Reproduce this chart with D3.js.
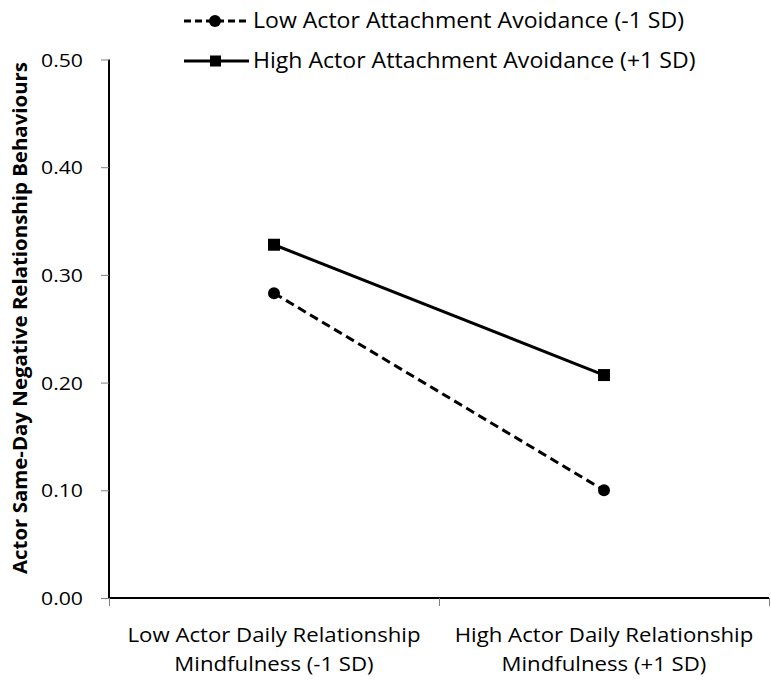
<!DOCTYPE html>
<html><head><meta charset="utf-8">
<script src="https://cdn.jsdelivr.net/npm/d3@7"></script>
<style>body{margin:0;background:#fff;} svg{display:block;} text{font-family:"Open Sans","Noto Sans",sans-serif;fill:#000;}</style>
</head><body>
<svg id="chart" width="771" height="682"></svg>
<script>
const categories = [["Low Actor Daily Relationship","Mindfulness (-1 SD)"],["High Actor Daily Relationship","Mindfulness (+1 SD)"]];
const seriesNames = ["Low Actor Attachment Avoidance (-1 SD)","High Actor Attachment Avoidance (+1 SD)"];
const lowAvoidance = [0.283, 0.100];
const highAvoidance = [0.328, 0.207];
const yTicks = [0, 0.1, 0.2, 0.3, 0.4, 0.5];
const yTitle = "Actor Same-Day Negative Relationship Behaviours";

const svg = d3.select("#chart");
const m = {l:109, r:769, t:59.5, b:598};
const x = d3.scaleLinear().domain([0,2]).range([m.l, m.r]);
const y = d3.scaleLinear().domain([0,0.5]).range([m.b, m.t]);

// squeeze text horizontally to mimic a narrower face
function squeeze(sel, ratio){
  sel.each(function(){
    const w = this.getComputedTextLength();
    d3.select(this).attr("textLength", w*ratio).attr("lengthAdjust","spacingAndGlyphs");
  });
}
function ratioFor(sel, target){ return target / sel.node().getComputedTextLength(); }

// Y axis
const ya = svg.append("g").attr("transform",`translate(${m.l},0)`)
  .call(d3.axisLeft(y).tickValues(yTicks).tickFormat(d3.format(".2f")).tickSize(8).tickPadding(18));
ya.select(".domain").attr("stroke","#000").attr("stroke-width",2).attr("d",`M0,${m.t}V${m.b}`);
ya.selectAll(".tick line").attr("stroke","#808080").attr("stroke-width",1);
const tl = ya.selectAll(".tick text").attr("font-size",19).attr("font-family",null).attr("dy","0.35em");
squeeze(tl, ratioFor(tl, 42));

// X axis
const xa = svg.append("g").attr("transform",`translate(0,${m.b})`)
  .call(d3.axisBottom(x).tickValues([0,1,2]).tickFormat("").tickSize(8));
xa.select(".domain").attr("stroke","#000").attr("stroke-width",2).attr("d",`M${m.l},0H${m.r}`);
xa.selectAll(".tick line").attr("stroke","#808080").attr("stroke-width",1);

// category labels
let catRatio = null;
categories.forEach((lines,i)=>{
  lines.forEach((t,j)=>{
    const tx = svg.append("text").attr("x",x(i+0.5)).attr("y",642+j*29)
      .attr("text-anchor","middle").attr("font-size",20).text(t);
    if(catRatio===null) catRatio = ratioFor(tx, 293);
    squeeze(tx, catRatio);
  });
});

// Y title
const yt = svg.append("text").attr("transform",`translate(27,318) rotate(-90)`)
  .attr("text-anchor","middle").attr("font-weight","bold").attr("font-size",20).text(yTitle);
squeeze(yt, ratioFor(yt, 512));

// series
const line = d3.line().x((d,i)=>x(i+0.5)).y(d=>y(d));
svg.append("path").datum(highAvoidance).attr("d",line).attr("fill","none").attr("stroke","#000").attr("stroke-width",3);
svg.append("path").datum(lowAvoidance).attr("d",line).attr("fill","none").attr("stroke","#000").attr("stroke-width",3).attr("stroke-dasharray","9,5");
svg.selectAll(".sq").data(highAvoidance).enter().append("rect")
  .attr("x",(d,i)=>x(i+0.5)-6).attr("y",d=>y(d)-6).attr("width",12).attr("height",12).attr("fill","#000");
svg.selectAll(".ci").data(lowAvoidance).enter().append("circle")
  .attr("cx",(d,i)=>x(i+0.5)).attr("cy",d=>y(d)).attr("r",6).attr("fill","#000");

// legend
const lg = svg.append("g");
const legY = [21, 61];
lg.append("line").attr("x1",184).attr("x2",249).attr("y1",legY[0]).attr("y2",legY[0]).attr("stroke","#000").attr("stroke-width",3).attr("stroke-dasharray","7,4");
lg.append("circle").attr("cx",215).attr("cy",legY[0]).attr("r",6).attr("fill","#000");
lg.append("line").attr("x1",184).attr("x2",249).attr("y1",legY[1]).attr("y2",legY[1]).attr("stroke","#000").attr("stroke-width",3);
lg.append("rect").attr("x",210).attr("y",legY[1]-5.5).attr("width",11).attr("height",11).attr("fill","#000");
const l1 = lg.append("text").attr("x",253).attr("y",legY[0]+7).attr("font-size",21).text(seriesNames[0]);
const legRatio = ratioFor(l1, 431);
squeeze(l1, legRatio);
const l2 = lg.append("text").attr("x",253).attr("y",legY[1]+7).attr("font-size",21).text(seriesNames[1]);
squeeze(l2, legRatio);
</script>
</body></html>
